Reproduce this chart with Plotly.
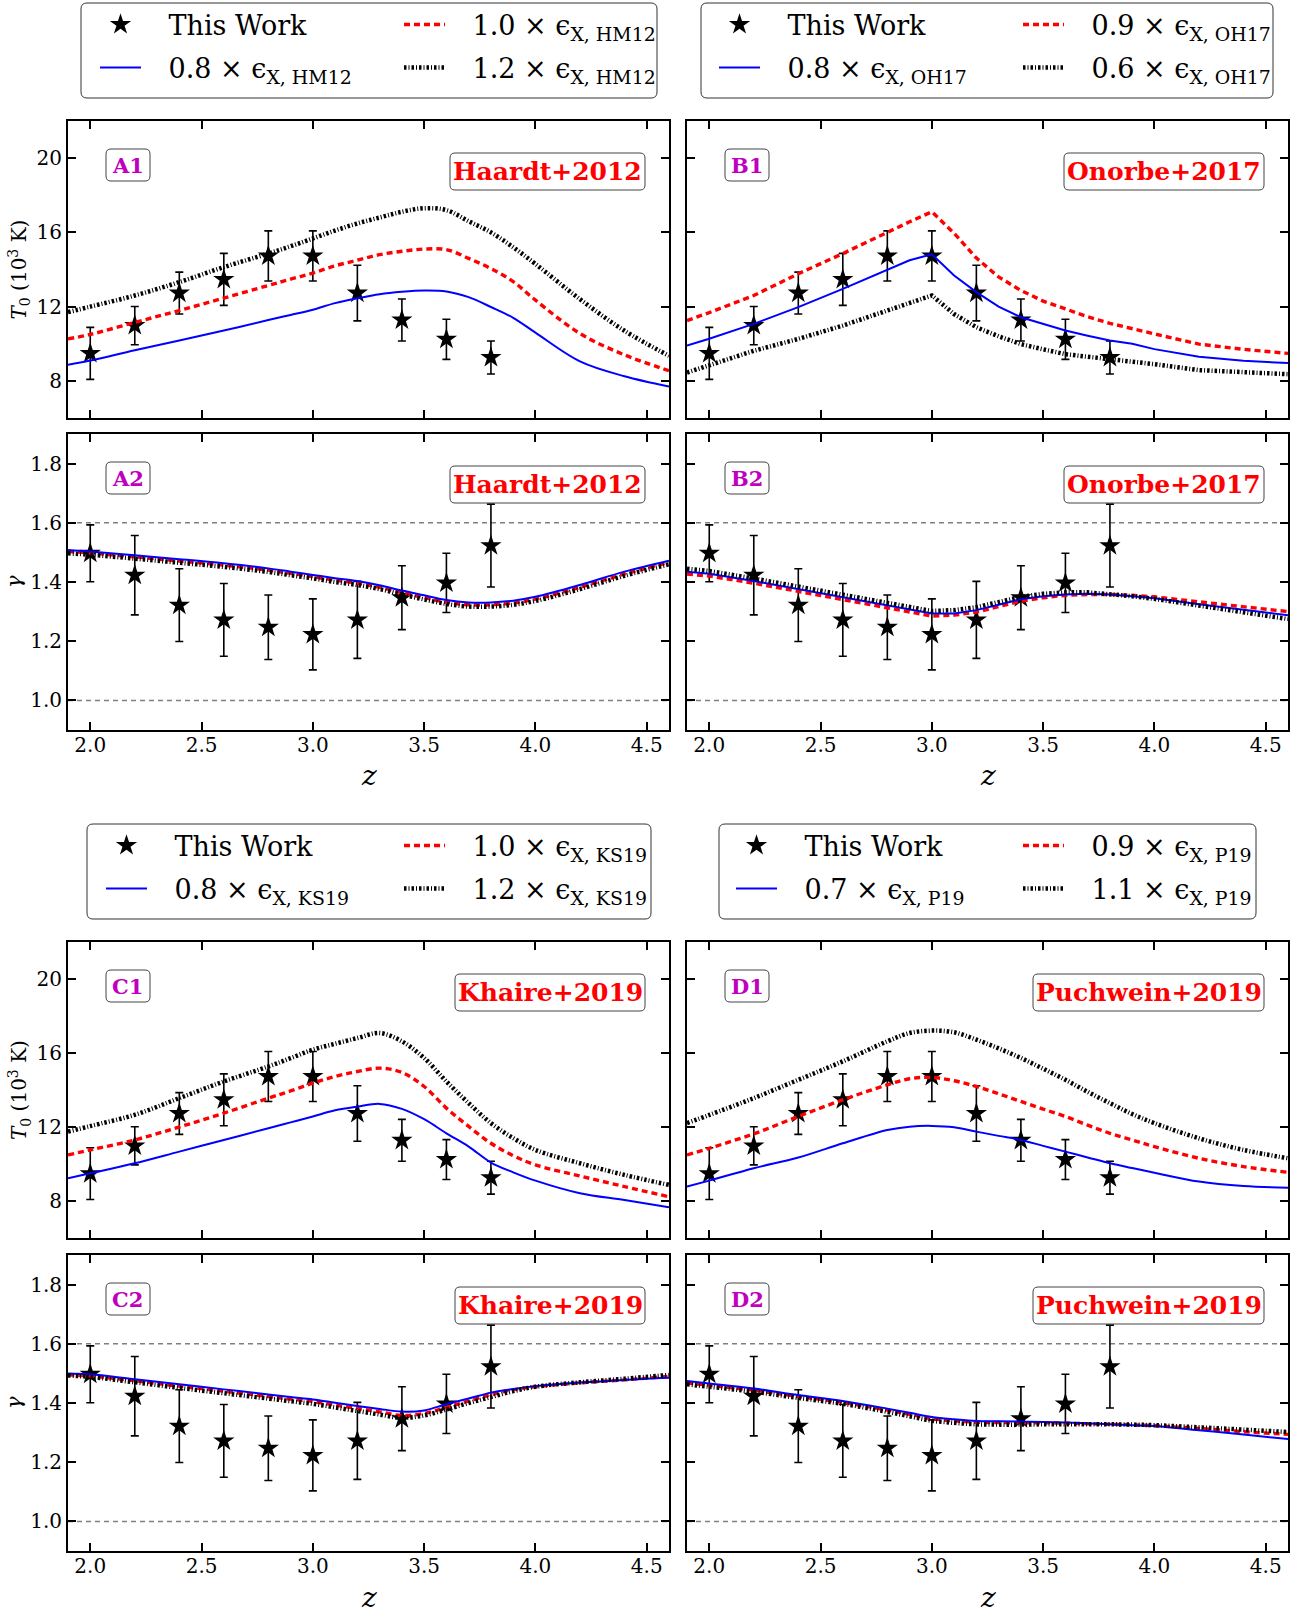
import plotly.graph_objects as go

W, H = 1299, 1617

# ---------------- observational data (same in every panel) ----------------
z_obs = [2.0, 2.2, 2.4, 2.6, 2.8, 3.0, 3.2, 3.4, 3.6, 3.8]
T0_obs = [9.48, 10.98, 12.73, 13.47, 14.73, 14.73, 12.73, 11.28, 10.24, 9.26]
T0_err = [1.40, 1.03, 1.13, 1.40, 1.35, 1.35, 1.50, 1.13, 1.08, 0.89]
gamma_obs = [1.497, 1.423, 1.322, 1.272, 1.247, 1.223, 1.272, 1.347, 1.397, 1.523]
gamma_err = [0.096, 0.134, 0.123, 0.123, 0.109, 0.120, 0.130, 0.108, 0.100, 0.140]

# ---------------- model curves ----------------
z_model = [1.9, 2.0, 2.2, 2.4, 2.6, 2.8, 2.9, 3.0, 3.1, 3.2, 3.3, 3.4, 3.5, 3.6,
           3.7, 3.8, 3.9, 4.0, 4.2, 4.4, 4.6]

# A: Haardt+2012
A_T0_blue = [8.87, 9.10, 9.65, 10.17, 10.71, 11.28, 11.55, 11.83, 12.19, 12.45, 12.67, 12.80, 12.87, 12.82, 12.51, 11.98, 11.40, 10.60, 9.05, 8.25, 7.70]
A_T0_red = [10.26, 10.50, 11.15, 11.79, 12.46, 13.14, 13.48, 13.81, 14.20, 14.50, 14.80, 14.98, 15.10, 15.07, 14.60, 14.05, 13.35, 12.35, 10.55, 9.40, 8.55]
A_T0_black = [11.70, 12.00, 12.60, 13.32, 14.13, 14.86, 15.25, 15.67, 16.10, 16.48, 16.80, 17.11, 17.30, 17.20, 16.60, 16.00, 15.20, 14.30, 12.40, 10.70, 9.35]
A_g_blue = [1.508, 1.503, 1.490, 1.477, 1.463, 1.446, 1.435, 1.424, 1.413, 1.403, 1.389, 1.371, 1.355, 1.339, 1.331, 1.331, 1.337, 1.350, 1.390, 1.435, 1.472]
A_g_red = [1.503, 1.498, 1.485, 1.471, 1.457, 1.440, 1.429, 1.418, 1.406, 1.396, 1.382, 1.364, 1.347, 1.332, 1.323, 1.323, 1.329, 1.342, 1.382, 1.427, 1.466]
A_g_black = [1.497, 1.492, 1.479, 1.465, 1.451, 1.434, 1.423, 1.412, 1.400, 1.390, 1.376, 1.358, 1.341, 1.326, 1.317, 1.317, 1.323, 1.336, 1.376, 1.421, 1.460]

# B: Onorbe+2017
B_T0_blue = [9.90, 10.27, 11.07, 11.97, 12.96, 13.99, 14.50, 14.82, 13.68, 12.78, 12.00, 11.43, 11.05, 10.71, 10.43, 10.17, 10.00, 9.71, 9.30, 9.08, 8.96]
B_T0_red = [11.25, 11.68, 12.60, 13.77, 14.86, 16.03, 16.57, 17.11, 15.95, 14.62, 13.60, 12.87, 12.30, 11.88, 11.45, 11.10, 10.80, 10.53, 9.98, 9.70, 9.48]
B_T0_black = [8.45, 8.85, 9.62, 10.26, 10.98, 11.79, 12.20, 12.60, 11.60, 10.89, 10.40, 9.98, 9.70, 9.44, 9.30, 9.17, 9.05, 8.90, 8.58, 8.45, 8.36]
B_g_blue = [1.435, 1.428, 1.403, 1.376, 1.347, 1.322, 1.308, 1.294, 1.294, 1.305, 1.323, 1.342, 1.352, 1.358, 1.360, 1.358, 1.352, 1.345, 1.325, 1.307, 1.288]
B_g_red = [1.427, 1.420, 1.396, 1.368, 1.340, 1.313, 1.298, 1.285, 1.288, 1.298, 1.317, 1.335, 1.347, 1.355, 1.358, 1.358, 1.355, 1.350, 1.333, 1.317, 1.300]
B_g_black = [1.445, 1.437, 1.412, 1.384, 1.356, 1.330, 1.316, 1.302, 1.305, 1.315, 1.332, 1.350, 1.360, 1.365, 1.365, 1.360, 1.352, 1.343, 1.320, 1.298, 1.275]

# C: Khaire+2019
C_T0_blue = [9.23, 9.50, 10.04, 10.67, 11.30, 11.93, 12.25, 12.57, 12.90, 13.10, 13.25, 12.98, 12.42, 11.66, 10.94, 10.08, 9.55, 9.10, 8.42, 8.05, 7.66]
C_T0_red = [10.49, 10.76, 11.30, 12.00, 12.75, 13.56, 13.95, 14.37, 14.73, 15.00, 15.18, 14.95, 14.19, 13.02, 12.03, 11.12, 10.45, 9.95, 9.35, 8.78, 8.23]
C_T0_black = [11.75, 12.05, 12.66, 13.56, 14.46, 15.27, 15.72, 16.18, 16.50, 16.81, 17.08, 16.63, 15.73, 14.46, 13.29, 12.21, 11.40, 10.76, 10.04, 9.41, 8.87]
C_g_blue = [1.500, 1.497, 1.480, 1.463, 1.446, 1.429, 1.420, 1.412, 1.401, 1.390, 1.380, 1.371, 1.375, 1.396, 1.415, 1.435, 1.447, 1.457, 1.469, 1.478, 1.485]
C_g_red = [1.495, 1.491, 1.475, 1.457, 1.440, 1.422, 1.413, 1.405, 1.393, 1.382, 1.370, 1.358, 1.365, 1.385, 1.407, 1.428, 1.445, 1.455, 1.468, 1.478, 1.490]
C_g_black = [1.493, 1.488, 1.470, 1.451, 1.433, 1.415, 1.406, 1.397, 1.385, 1.373, 1.361, 1.350, 1.358, 1.378, 1.400, 1.420, 1.440, 1.455, 1.470, 1.482, 1.495]

# D: Puchwein+2019
D_T0_blue = [8.78, 9.10, 9.77, 10.35, 11.12, 11.84, 12.02, 12.06, 11.99, 11.75, 11.52, 11.30, 10.98, 10.67, 10.35, 10.04, 9.78, 9.53, 9.05, 8.81, 8.72]
D_T0_red = [10.49, 10.85, 11.63, 12.57, 13.47, 14.28, 14.61, 14.68, 14.50, 14.19, 13.80, 13.38, 12.97, 12.57, 12.10, 11.66, 11.30, 10.94, 10.31, 9.86, 9.55]
D_T0_black = [12.21, 12.65, 13.56, 14.55, 15.55, 16.63, 17.08, 17.21, 17.12, 16.72, 16.25, 15.73, 15.15, 14.55, 13.90, 13.29, 12.70, 12.21, 11.39, 10.76, 10.31]
D_g_blue = [1.474, 1.466, 1.449, 1.427, 1.407, 1.381, 1.367, 1.353, 1.345, 1.339, 1.338, 1.337, 1.336, 1.334, 1.331, 1.328, 1.325, 1.322, 1.308, 1.294, 1.278]
D_g_red = [1.468, 1.460, 1.443, 1.422, 1.402, 1.376, 1.362, 1.347, 1.340, 1.335, 1.334, 1.333, 1.333, 1.332, 1.330, 1.328, 1.326, 1.323, 1.314, 1.303, 1.294]
D_g_black = [1.463, 1.455, 1.438, 1.417, 1.397, 1.370, 1.355, 1.340, 1.333, 1.328, 1.327, 1.327, 1.328, 1.328, 1.328, 1.328, 1.327, 1.325, 1.318, 1.310, 1.302]

# ---------------- labels ----------------
uvb_names = ["Haardt+2012", "Onorbe+2017", "Khaire+2019", "Puchwein+2019"]
uvb_subs = ["HM12", "OH17", "KS19", "P19"]
panel_letters = ["A", "B", "C", "D"]
factor_red = ["1.0", "0.9", "1.0", "0.9"]
factor_blue = ["0.8", "0.8", "0.8", "0.7"]
factor_black = ["1.2", "0.6", "1.2", "1.1"]
x_ticks = [2.0, 2.5, 3.0, 3.5, 4.0, 4.5]
T0_ticks = [8, 12, 16, 20]
gamma_ticks = [1.0, 1.2, 1.4, 1.6, 1.8]
gamma_refs = [1.0, 1.6]

T0_curves = [(A_T0_blue, A_T0_red, A_T0_black), (B_T0_blue, B_T0_red, B_T0_black),
             (C_T0_blue, C_T0_red, C_T0_black), (D_T0_blue, D_T0_red, D_T0_black)]
g_curves = [(A_g_blue, A_g_red, A_g_black), (B_g_blue, B_g_red, B_g_black),
            (C_g_blue, C_g_red, C_g_black), (D_g_blue, D_g_red, D_g_black)]

# ---------------- geometry (pixels) ----------------
col_x = [(68, 669), (687, 1288)]
top_y = [(121, 418), (942, 1238)]
bot_y = [(434, 730), (1255, 1551)]
# legend boxes: (left, top, right, bottom), first symbol x, column spacing, row centres
legend_box = [(81, 3, 657, 98), (701, 3, 1273, 98), (87, 824, 651, 919), (719, 824, 1256, 919)]
legend_sym_x = [100, 719, 106, 736]
legend_colgap = [304, 304, 298, 287]
legend_rows = [(25, 68), (25, 68), (846, 889), (846, 889)]
# label boxes relative to panel top-left
tag_box = (38, 28, 82, 60)
name_box_left = [382, 377, 387, 346]
name_box_right = 577
name_box_y = (32, 69)

SERIF = "DejaVu Serif"
PAD = "\u00a0\u00a0\u2009"
fig = go.Figure()


def fx(px):
    return px / W


def fy(py):
    return 1 - py / H


def rrect(x0, y0, x1, y1, r=5):
    # pixel box -> rounded rectangle path in paper fractions
    a0, a1 = fx(x0), fx(x1)
    b0, b1 = fy(y1), fy(y0)
    rx, ry = r / W, r / H
    return ("M{0},{1} L{2},{1} Q{3},{1} {3},{4} L{3},{5} Q{3},{6} {2},{6} "
            "L{0},{6} Q{7},{6} {7},{5} L{7},{4} Q{7},{1} {0},{1} Z").format(
        a0 + rx, b0, a1 - rx, a1, b0 + ry, b1 - ry, b1, a0)


def axname(letter, i):
    return letter if i == 1 else "%s%d" % (letter, i)


def legname(i):
    return "legend" if i == 1 else "legend%d" % i


axis_common = dict(showline=True, linewidth=2, linecolor="black", mirror="ticks",
                   ticks="inside", ticklen=8, tickwidth=2, tickcolor="black",
                   showgrid=False, zeroline=False, automargin=False,
                   tickfont=dict(family=SERIF, size=20, color="black"))

layout = {}
annotations = []
shapes = []

for p in range(4):
    col = p % 2
    row = p // 2
    ax_top = 2 * p + 1
    ax_bot = 2 * p + 2
    xs = col_x[col]
    lg1 = legname(2 * p + 1)
    lg2 = legname(2 * p + 2)
    sub = uvb_subs[p]
    blue, red, black = T0_curves[p]
    gb, gr, gk = g_curves[p]
    shape = "linear" if p == 1 else "spline"

    for ax, ys, yvals, errs, curves, yticks, yr in [
        (ax_top, top_y[row], T0_obs, T0_err, (blue, red, black), T0_ticks, [6, 22]),
        (ax_bot, bot_y[row], gamma_obs, gamma_err, (gb, gr, gk), gamma_ticks, [0.9, 1.9]),
    ]:
        xa = axname("x", ax)
        ya = axname("y", ax)
        first = ax == ax_top
        fig.add_trace(go.Scatter(
            x=z_obs, y=yvals, mode="markers", xaxis=xa, yaxis=ya,
            name=PAD + "This Work", legend=lg1, showlegend=first,
            marker=dict(symbol="star", size=16, color="black"),
            error_y=dict(type="data", array=errs, visible=True, color="black",
                         thickness=1.6, width=4)))
        fig.add_trace(go.Scatter(
            x=z_model, y=curves[1], mode="lines", xaxis=xa, yaxis=ya,
            name=PAD + "%s × ϵ<sub>X, %s</sub>" % (factor_red[p], sub), legend=lg1,
            showlegend=first,
            line=dict(color="#ff0000", width=3.4, dash="6px,4px", shape=shape)))
        fig.add_trace(go.Scatter(
            x=z_model, y=curves[0], mode="lines", xaxis=xa, yaxis=ya,
            name=PAD + "%s × ϵ<sub>X, %s</sub>" % (factor_blue[p], sub), legend=lg2,
            showlegend=first,
            line=dict(color="#0000ff", width=2, shape=shape)))
        fig.add_trace(go.Scatter(
            x=z_model, y=curves[2], mode="lines", xaxis=xa, yaxis=ya,
            name=PAD + "%s × ϵ<sub>X, %s</sub>" % (factor_black[p], sub), legend=lg2,
            showlegend=first,
            line=dict(color="black", width=4.5, dash="2.5px,2px,1px,2px", shape=shape)))

        xkey = "xaxis%d" % ax if ax > 1 else "xaxis"
        ykey = "yaxis%d" % ax if ax > 1 else "yaxis"
        layout[xkey] = dict(axis_common, domain=[fx(xs[0]), fx(xs[1])], range=[1.9, 4.6],
                            anchor=ya, tickvals=x_ticks, tickformat=".1f",
                            showticklabels=not first, ticklabelstandoff=-4)
        layout[ykey] = dict(axis_common, domain=[fy(ys[1]), fy(ys[0])], range=yr, anchor=xa,
                            tickvals=yticks,
                            tickformat=(".1f" if not first else "d"),
                            showticklabels=(col == 0))

        # panel tag box + text
        tx0, ty0, tx1, ty1 = (xs[0] + tag_box[0], ys[0] + tag_box[1],
                              xs[0] + tag_box[2], ys[0] + tag_box[3])
        shapes.append(dict(type="path", xref="paper", yref="paper", layer="above",
                           path=rrect(tx0, ty0, tx1, ty1),
                           fillcolor="white", line=dict(color="#444", width=1)))
        annotations.append(dict(
            xref="paper", yref="paper", x=fx((tx0 + tx1) / 2), y=fy((ty0 + ty1) / 2),
            xanchor="center", yanchor="middle", showarrow=False,
            text="<b>%s%d</b>" % (panel_letters[p], 1 if first else 2),
            font=dict(family=SERIF, size=21, color="#bf00bf")))
        # model name box + text
        nx0, ny0, nx1, ny1 = (xs[0] + name_box_left[p], ys[0] + name_box_y[0],
                              xs[0] + name_box_right, ys[0] + name_box_y[1])
        shapes.append(dict(type="path", xref="paper", yref="paper", layer="above",
                           path=rrect(nx0, ny0, nx1, ny1),
                           fillcolor="white", line=dict(color="#444", width=1)))
        annotations.append(dict(
            xref="paper", yref="paper", x=fx((nx0 + nx1) / 2), y=fy((ny0 + ny1) / 2),
            xanchor="center", yanchor="middle", showarrow=False,
            text="<b>%s</b>" % uvb_names[p],
            font=dict(family=SERIF, size=25, color="#ff0000")))

        if not first:
            for gv in gamma_refs:
                shapes.append(dict(type="line", xref="%s domain" % xa, yref=ya,
                                   x0=0, x1=1, y0=gv, y1=gv, layer="below",
                                   line=dict(color="gray", width=1.5, dash="5px,4px")))
            annotations.append(dict(
                xref="paper", yref="paper",
                x=fx((xs[0] + xs[1]) / 2), y=fy(ys[1] + 46),
                xanchor="center", yanchor="middle", showarrow=False,
                text="<i>z</i>", font=dict(family=SERIF, size=28, color="black")))

    # legend frame + two single-row legends
    bx0, by0, bx1, by1 = legend_box[p]
    shapes.append(dict(type="path", xref="paper", yref="paper", layer="above",
                       path=rrect(bx0, by0, bx1, by1, r=6),
                       fillcolor="white", line=dict(color="#333", width=1)))
    for lg, rc in [(lg1, legend_rows[p][0]), (lg2, legend_rows[p][1])]:
        layout[lg] = dict(x=fx(legend_sym_x[p] - 5), y=fy(rc), xanchor="left",
                          yanchor="middle", xref="paper", yref="paper",
                          orientation="h", traceorder="normal",
                          entrywidth=legend_colgap[p] - 56, entrywidthmode="pixels",
                          borderwidth=0, bgcolor="rgba(0,0,0,0)",
                          itemwidth=41,
                          font=dict(family=SERIF, size=27, color="black"))

# y-axis titles (left column only)
for row in range(2):
    ty = top_y[row]
    by = bot_y[row]
    annotations.append(dict(
        xref="paper", yref="paper", x=fx(19), y=fy((ty[0] + ty[1]) / 2),
        xanchor="center", yanchor="middle", showarrow=False, textangle=-90,
        text="<i>T</i><sub>0</sub> (10<sup>3</sup> K)",
        font=dict(family=SERIF, size=20, color="black")))
    annotations.append(dict(
        xref="paper", yref="paper", x=fx(14), y=fy((by[0] + by[1]) / 2),
        xanchor="center", yanchor="middle", showarrow=False, textangle=-90,
        text="<i>γ</i>", font=dict(family=SERIF, size=21, color="black")))

fig.update_layout(
    width=W, height=H, margin=dict(l=0, r=0, t=0, b=0, autoexpand=False),
    paper_bgcolor="white", plot_bgcolor="white",
    annotations=annotations, shapes=shapes, **layout)

fig.write_html("out.html", config={"displayModeBar": False},
               post_script="document.body.style.margin='0px';")
